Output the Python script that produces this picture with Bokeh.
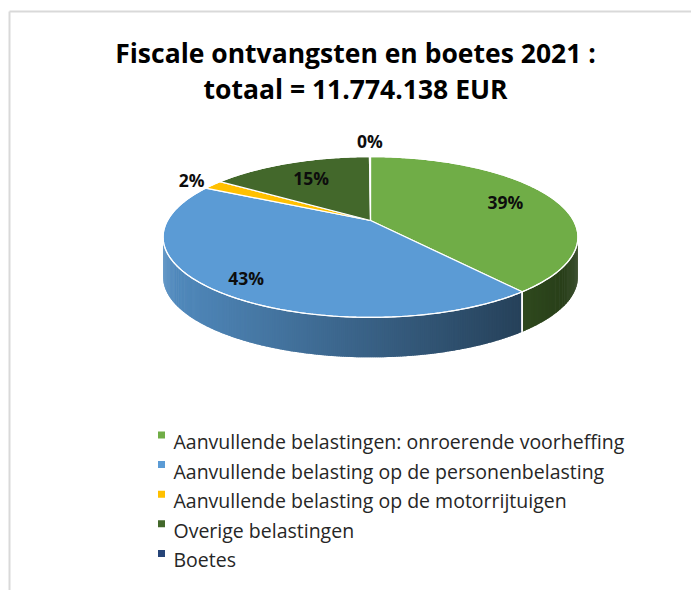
import numpy as np
from bokeh.plotting import figure
from bokeh.models import Range1d
from bokeh.core.properties import value
from bokeh.embed import file_html
from bokeh.resources import INLINE

# ---------------- data ----------------
title_lines = ["Fiscale ontvangsten en boetes 2021 :", "totaal = 11.774.138 EUR"]
categories = [
    "Aanvullende belastingen: onroerende voorheffing",
    "Aanvullende belasting op de personenbelasting",
    "Aanvullende belasting op de motorrijtuigen",
    "Overige belastingen",
    "Boetes",
]
percent = [39.2, 43.4, 1.9, 15.4, 0.1]
pct_labels = ["39%", "43%", "2%", "15%", "0%"]
colors = ["#70ad47", "#5b9bd5", "#ffc000", "#43682b", "#264478"]

# ---------------- figure (page pixel coordinates) ----------------
W, H = 691, 590
p = figure(width=W, height=H, output_backend="svg", toolbar_location=None,
           x_range=Range1d(0, W), y_range=Range1d(H, 0),
           min_border=0, outline_line_color=None)
p.axis.visible = False
p.grid.visible = False
p.background_fill_color = "white"
p.border_fill_color = "white"

# frame border (left and top visible)
p.line([9, 9], [590, 11], line_color="#d9d9d9", line_width=2)
p.line([9, 691], [11, 11], line_color="#d9d9d9", line_width=2)

# ---------------- 3D pie projection ----------------
CX, CY = 370.0, 220.0
RX, RY, K = 203.0, 77.0, 0.205
DEPTH = 40.0


def proj(theta, r=1.0):
    u = r * np.sin(theta)
    v = r * np.cos(theta)
    w = 1 + K * v
    return CX + RX * u / w, CY - RY * v / w


vals = np.array(percent, dtype=float)
frac = vals / vals.sum()
ends = np.cumsum(frac) * 2 * np.pi
starts = ends - frac * 2 * np.pi

th_r = np.arccos(-K)           # right silhouette
th_l = 2 * np.pi - th_r        # left silhouette
xmin = proj(th_l)[0]
xmax = proj(th_r)[0]


def hex2rgb(h):
    h = h.lstrip("#")
    return np.array([int(h[i:i + 2], 16) for i in (0, 2, 4)], dtype=float)


def shade(h, f):
    c = np.clip(hex2rgb(h) * f, 0, 255).astype(int)
    return "#%02x%02x%02x" % tuple(c)


# side walls (gradient strips, slightly overlapping to hide seams)
sx, sy, sc = [], [], []
for s, e, col in zip(starts, ends, colors):
    a0, a1 = max(s, th_r), min(e, th_l)
    if a1 <= a0:
        continue
    n = max(2, int((a1 - a0) / 0.008))
    ts = np.linspace(a0, a1, n + 1)
    dt = ts[1] - ts[0]
    for t0, t1 in zip(ts[:-1], ts[1:]):
        t1e = min(t1 + 0.8 * dt, a1)
        x0, y0 = proj(t0)
        x1, y1 = proj(t1e)
        xm = 0.5 * (proj(t0)[0] + proj(t1)[0])
        f = 0.9 - 0.55 * (xm - xmin) / (xmax - xmin)
        sx.append([x0, x1, x1, x0])
        sy.append([y0, y1, y1 + DEPTH, y0 + DEPTH])
        sc.append(shade(col, f))
p.patches(sx, sy, fill_color=sc, line_color=None)

# white seams on the side at slice boundaries
for b in list(starts) + list(ends):
    if th_r < b < th_l:
        bx, by = proj(b)
        p.line([bx, bx], [by, by + DEPTH], line_color="white", line_width=1.5)

# top face wedges
wx, wy = [], []
for s, e in zip(starts, ends):
    ts = np.linspace(s, e, max(3, int((e - s) / 0.01)))
    px, py = proj(ts)
    wx.append([CX] + list(px))
    wy.append([CY] + list(py))
p.patches(wx, wy, fill_color=colors, line_color="white", line_width=1.2)

# outline of top face
tt = np.linspace(0, 2 * np.pi, 400)
ox, oy = proj(tt)
p.line(ox, oy, line_color="white", line_width=1.2)

# ---------------- percentage labels ----------------
label_r = [0.74, 0.84, 1.15, 0.7, 1.3]
lx, ly = [], []
for s, e, r in zip(starts, ends, label_r):
    x, y = proj(0.5 * (s + e), r)
    lx.append(x)
    ly.append(y)
p.text(lx, ly, text=pct_labels, text_font=value("Open Sans"), text_font_style="bold",
       text_font_size=value("17.5px"), text_color="#0d0d0d",
       text_align="center", text_baseline="middle")

# ---------------- title ----------------
p.text([355, 355], [52, 88], text=title_lines, text_font=value("Open Sans"),
       text_font_style="bold", text_font_size=value("26.5px"), text_color="#000000",
       text_align="center", text_baseline="alphabetic")

# ---------------- legend ----------------
ybase = 441.0 + 29.6 * np.arange(len(categories))
p.rect([161] * len(categories), ybase - 6.5, width=7, height=7,
       fill_color=colors, line_color=None)
p.text([173] * len(categories), ybase, text=categories, text_font=value("Open Sans"),
       text_font_size=value("19.5px"), text_color="#262626",
       text_align="left", text_baseline="alphabetic")

open("out.html", "w").write(file_html(p, INLINE))
